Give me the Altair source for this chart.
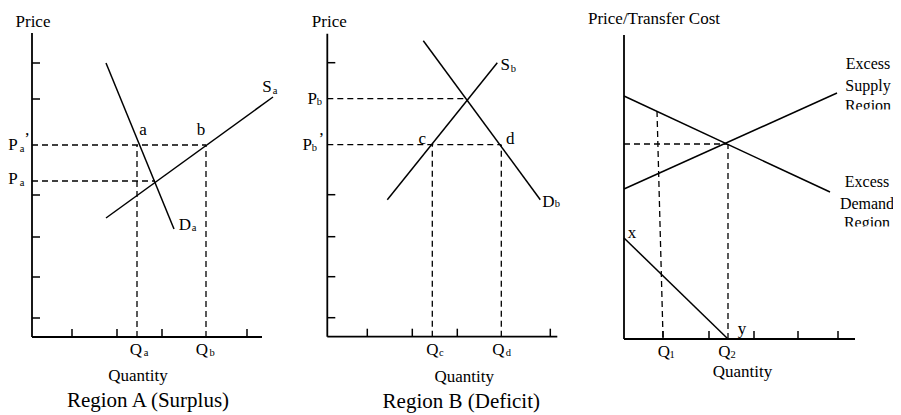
import altair as alt
import pandas as pd

FONT = "Liberation Serif"

# ---------------- Panel A: Region A (Surplus) ----------------
A_AXIS = [[0, 0, 0, 30.4], [0, 0, 23.0, 0]]
A_Y_TICKS = [1.9, 6.0, 10.0, 14.2, 23.8, 27.4]
A_X_TICKS = [4.0, 8.5, 13.0, 21.5]
A_CURVES = [[7.4, 27.4, 14.2, 10.8],      # demand Da
            [7.4, 11.9, 24.1, 24.0]]      # supply Sa
A_DASHED = [[0, 19.2, 17.4, 19.2], [0, 15.6, 12.3, 15.6],
            [10.5, 0, 10.5, 19.2], [17.4, 0, 17.4, 19.2]]
A_LABELS = [["Price", 0.1, 31.5], ["a", 11.1, 20.7], ["b", 16.9, 20.7],
            ["S", 23.5, 25.0], ["D", 15.3, 11.2],
            ["P", -1.9, 19.2], ["’", -0.5, 19.8], ["P", -1.9, 15.8],
            ["Q", 10.4, -1.3], ["Q", 17.0, -1.3], ["Quantity", 10.6, -3.9]]
A_SUBS = [["a", 24.3, 24.6], ["a", 16.2, 10.9], ["a", -1.0, 18.8],
          ["a", -1.0, 15.4], ["a", 11.4, -1.6], ["b", 18.0, -1.6]]
A_TITLE = [["Region A (Surplus)", 11.6, -6.4]]

# ---------------- Panel B: Region B (Deficit) ----------------
B_AXIS = [[0, 0, 0, 30.3], [0, 0, 23.0, 0]]
B_Y_TICKS = [1.9, 6.0, 10.0, 14.2, 27.4]
B_X_TICKS = [4.0, 8.5, 13.0, 22.3]
B_CURVES = [[9.6, 29.6, 21.3, 13.7],      # demand Db
            [6.0, 13.7, 17.0, 27.4]]      # supply Sb
B_DASHED = [[0, 23.8, 14.0, 23.8], [0, 19.2, 17.4, 19.2],
            [10.5, 0, 10.5, 19.2], [17.4, 0, 17.4, 19.2]]
B_LABELS = [["Price", 0.2, 31.5], ["c", 9.5, 19.8], ["d", 18.3, 19.8],
            ["S", 17.8, 27.2], ["D", 22.1, 13.5],
            ["P", -1.5, 23.8], ["P", -2.0, 19.2], ["’", -0.6, 19.8],
            ["Q", 10.5, -1.3], ["Q", 17.1, -1.3], ["Quantity", 13.7, -4.0]]
B_SUBS = [["b", 18.6, 26.8], ["b", 23.0, 13.3], ["b", -0.8, 23.5],
          ["b", -1.3, 18.9], ["c", 11.4, -1.6], ["d", 18.1, -1.6]]
B_TITLE = [["Region B (Deficit)", 13.4, -6.5]]

# ---------------- Panel C: Price / Transfer Cost ----------------
C_AXIS = [[0, 0, 0, 30.4], [0, 0, 23.1, 0]]
C_Y_TICKS = []
C_X_TICKS = [3.9, 8.5, 13.0, 17.4, 21.4]
C_CURVES = [[0, 24.3, 20.6, 14.7],        # excess demand
            [0, 15.0, 21.3, 24.6],        # excess supply
            [0, 10.1, 10.4, 0]]           # transfer cost x-y
C_DASHED = [[0, 19.5, 10.3, 19.5], [10.4, 0, 10.4, 19.5],
            [3.3, 22.8, 3.9, 0.2]]
C_LABELS = [["Price/Transfer Cost", 3.0, 32.05],
            ["x", 0.8, 10.6], ["y", 11.8, 1.0],
            ["Q", 4.0, -1.3], ["Q", 10.05, -1.3], ["Quantity", 11.85, -3.3]]
C_REGION_LABELS = [["Excess", 24.4, 27.5], ["Supply", 24.4, 25.3], ["Region", 24.4, 23.3],
                   ["Excess", 24.3, 15.7], ["Demand", 24.3, 13.5], ["Region", 24.3, 11.6]]
C_SUBS = [["1", 4.8, -1.6], ["2", 10.9, -1.6]]
C_TITLE = []
C_MASKS = [[21.8, 22.95, 28.5, 22.0], [21.8, 11.25, 28.5, 10.3]]


def seg_df(rows):
    return pd.DataFrame(rows, columns=["x", "y", "x2", "y2"])


def txt_df(rows):
    return pd.DataFrame(rows, columns=["t", "x", "y"])


def panel(ox, oy, axis, yt, xt, curves, dashed, labels, subs, title,
          masks=None, side_labels=None):
    xs = alt.Scale(domain=[0, 10], range=[ox, ox + 100], nice=False, zero=False)
    ys = alt.Scale(domain=[0, 10], range=[oy, oy - 100], nice=False, zero=False)
    X = alt.X("x:Q", scale=xs, axis=None)
    Y = alt.Y("y:Q", scale=ys, axis=None)

    def seg(rows, **kw):
        return alt.Chart(seg_df(rows)).mark_rule(color="black", **kw).encode(
            x=X, y=Y, x2="x2:Q", y2="y2:Q")

    ticks = [[0, v, 0.8, v] for v in yt] + [[v, 0, v, 0.8] for v in xt]
    layers = []
    layers.append(seg(dashed, strokeWidth=1.3, strokeDash=[6, 4]))
    layers.append(seg(curves, strokeWidth=1.5))
    layers.append(seg(axis, strokeWidth=1.8))
    if ticks:
        layers.append(seg(ticks, strokeWidth=1.5))

    def text(rows, size):
        return alt.Chart(txt_df(rows)).mark_text(
            font=FONT, fontSize=size, color="black", baseline="middle", align="center"
        ).encode(x=X, y=Y, text="t:N")

    layers.append(text(labels, 17))
    layers.append(text(subs, 10.5))
    if side_labels:
        layers.append(text(side_labels, 16))
    if title:
        layers.append(text(title, 21))
    if masks:
        layers.append(alt.Chart(seg_df(masks)).mark_rect(color="white").encode(
            x=X, y=Y, x2="x2:Q", y2="y2:Q"))
    return alt.layer(*layers)


pA = panel(24, 329, A_AXIS, A_Y_TICKS, A_X_TICKS, A_CURVES, A_DASHED, A_LABELS, A_SUBS, A_TITLE)
pB = panel(319.3, 328.7, B_AXIS, B_Y_TICKS, B_X_TICKS, B_CURVES, B_DASHED, B_LABELS, B_SUBS, B_TITLE)
pC = panel(616, 331, C_AXIS, C_Y_TICKS, C_X_TICKS, C_CURVES, C_DASHED, C_LABELS, C_SUBS, C_TITLE,
           C_MASKS, C_REGION_LABELS)

chart = alt.layer(pA, pB, pC).resolve_scale(
    x="independent", y="independent"
).properties(
    width=885, height=405, padding=0,
    autosize=alt.AutoSizeParams(type="none"),
    background="white",
).configure_view(stroke=None)

chart.save("out.html", embed_options={"renderer": "svg", "actions": False})
